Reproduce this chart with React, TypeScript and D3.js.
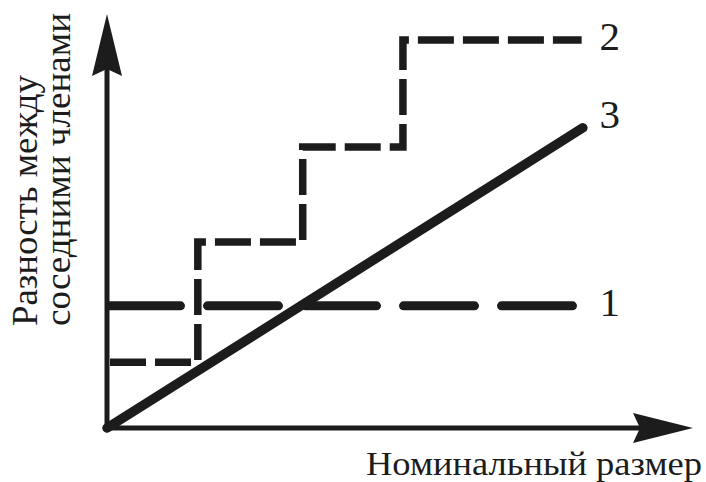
import React from 'react';
import * as d3 from 'd3';

// abstract units (no ticks in the original)
const line1 = [
  { x: 0, y: 2.95 },
  { x: 7.96, y: 2.95 },
];
const line2 = [
  { x: 0, y: 1.59 },
  { x: 1.55, y: 1.59 },
  { x: 1.55, y: 4.49 },
  { x: 3.34, y: 4.49 },
  { x: 3.34, y: 6.79 },
  { x: 5.05, y: 6.79 },
  { x: 5.05, y: 9.37 },
  { x: 8.1, y: 9.37 },
];
const line3 = [
  { x: 0, y: 0 },
  { x: 8.12, y: 7.25 },
];
const curveLabels = [
  { name: '1', x: 8.1, y: 2.95, dy: 10 },
  { name: '2', x: 8.1, y: 9.37, dy: 10 },
  { name: '3', x: 8.1, y: 7.25, dy: 0 },
];
const yTitle = ['Разность между', 'соседними членами'];
const yTitleLen = [251, 313];
const xTitle = 'Номинальный размер';

const W = 706;
const H = 482;
const ink = '#1c1c1c';
const font = "'Liberation Serif', 'Times New Roman', Tinos, 'DejaVu Serif', 'Noto Serif', serif";

const App = () => {
  const x = d3.scaleLinear().domain([0, 10]).range([107, 693]);
  const y = d3.scaleLinear().domain([0, 10]).range([428, 14]);

  const line = d3
    .line<{ x: number; y: number }>()
    .x(d => x(d.x))
    .y(d => y(d.y));

  const x0 = x(0);
  const y0 = y(0);
  const xEnd = x(10);
  const yEnd = y(10);

  return (
    <svg width={W} height={H} style={{ position: 'absolute', left: 0, top: 0, fontFamily: font }}>
      <rect width={W} height={H} fill="#fff" />

      {/* axes */}
      <line x1={x0} y1={y0} x2={x0} y2={yEnd + 40} stroke={ink} strokeWidth={5} />
      <line x1={x0 - 2.5} y1={y0} x2={xEnd - 40} y2={y0} stroke={ink} strokeWidth={5} />
      <path
        d={`M${x0},${yEnd} L${x0 + 15},${yEnd + 62} L${x0},${yEnd + 55} L${x0 - 15},${yEnd + 62} Z`}
        fill={ink}
      />
      <path
        d={`M${xEnd},${y0} L${xEnd - 60},${y0 + 15} L${xEnd - 53},${y0} L${xEnd - 60},${y0 - 15} Z`}
        fill={ink}
      />

      {/* 1 — long dashes */}
      <path
        d={line(line1) ?? ''}
        fill="none"
        stroke={ink}
        strokeWidth={9}
        strokeLinecap="round"
        strokeDasharray="71 27"
        strokeDashoffset={95.5}
      />
      {/* 2 — steps */}
      <path
        d={line(line2) ?? ''}
        fill="none"
        stroke={ink}
        strokeWidth={7.5}
        strokeLinejoin="miter"
        strokeDasharray="36 9"
        strokeDashoffset={42}
      />
      {/* 3 — solid */}
      <path
        d={line(line3) ?? ''}
        fill="none"
        stroke={ink}
        strokeWidth={9.5}
        strokeLinecap="round"
      />

      {curveLabels.map(d => (
        <text
          key={d.name}
          x={x(d.x) + 28}
          y={y(d.y) + d.dy}
          textAnchor="middle"
          style={{ fontFamily: font }}
          fontSize={41}
          fill={ink}
        >
          {d.name}
        </text>
      ))}

      <g transform="translate(37,326) rotate(-90)">
        {yTitle.map((t, i) => (
          <text
            key={t}
            x={0}
            y={i * 33}
            style={{ fontFamily: font }}
            fontSize={35}
            textLength={yTitleLen[i]}
            lengthAdjust="spacingAndGlyphs"
            fill={ink}
          >
            {t}
          </text>
        ))}
      </g>

      <text
        x={366}
        y={475}
        textLength={336}
        lengthAdjust="spacingAndGlyphs"
        style={{ fontFamily: font }}
        fontSize={33}
        fill={ink}
      >
        {xTitle}
      </text>
    </svg>
  );
};

export default App;
